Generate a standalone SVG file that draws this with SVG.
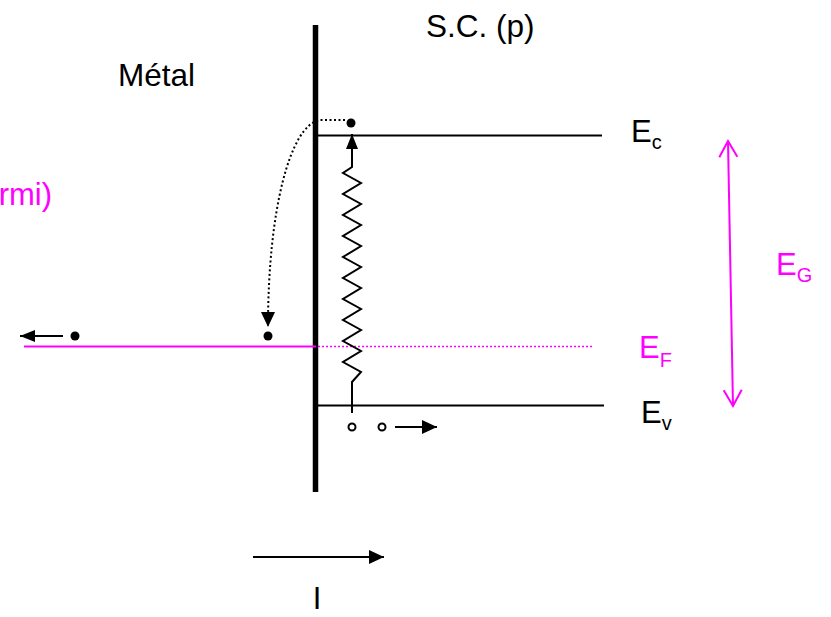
<svg xmlns="http://www.w3.org/2000/svg" width="831" height="617" viewBox="0 0 831 617">
<style>
.t{font-family:"Liberation Sans",Arial,sans-serif;fill:#000}
.m{fill:#FF00FF}
.blk{stroke:#000;fill:none}
.mag{stroke:#FF00FF;fill:none}
</style>
<defs>
<marker id="ah" markerUnits="userSpaceOnUse" markerWidth="16" markerHeight="14" refX="15" refY="7" orient="auto"><path d="M0,0 L15,7 L0,14 z" fill="#000"/></marker>
<marker id="ahs" markerUnits="userSpaceOnUse" markerWidth="16" markerHeight="12" refX="15" refY="6" orient="auto"><path d="M0,0 L15,6 L0,12 z" fill="#000"/></marker>
<marker id="oa" markerUnits="userSpaceOnUse" markerWidth="20" markerHeight="22" refX="17" refY="10" orient="auto-start-reverse"><path d="M1,1 L17,10 L1,19" fill="none" stroke="#FF00FF" stroke-width="2"/></marker>
</defs>
<rect width="831" height="617" fill="#fff"/>

<g id="labels">
<text class="t" x="118" y="86" font-size="31.5">Métal</text>
<text class="t" x="426" y="37" font-size="31.5">S.C. (p)</text>
<text class="t m" x="52" y="205" font-size="31" text-anchor="end">rmi)</text>
<text class="t" x="317" y="609" font-size="31" text-anchor="middle">I</text>
</g>

<g id="wall"><line class="blk" x1="315.5" y1="25" x2="315.5" y2="492" stroke-width="5.5"/></g>

<g id="Ec">
<line class="blk" x1="316" y1="135.5" x2="602" y2="135.5" stroke-width="2"/>
<text class="t" x="631" y="142" font-size="31">E<tspan font-size="20" dy="7">c</tspan></text>
</g>
<g id="Ev">
<line class="blk" x1="316" y1="405.5" x2="604" y2="405.5" stroke-width="2"/>
<text class="t" x="641" y="423" font-size="31">E<tspan font-size="20" dy="7">v</tspan></text>
</g>
<g id="EF">
<line class="mag" x1="24" y1="346.5" x2="316" y2="346.5" stroke-width="2.2"/>
<line class="mag" x1="318" y1="346.5" x2="594" y2="346.5" stroke-width="1.5" stroke-dasharray="2,2"/>
<text class="t m" x="639" y="358" font-size="31">E<tspan font-size="20" dy="9">F</tspan></text>
</g>
<g id="EG">
<text class="t m" x="776" y="275" font-size="31">E<tspan font-size="20" dy="7">G</tspan></text>
</g>

<g id="particles">
<circle cx="351" cy="123" r="4.5" fill="#000"/>
<circle cx="268" cy="336" r="4.5" fill="#000"/>
<circle cx="75" cy="336" r="4.5" fill="#000"/>
<circle cx="352" cy="427" r="3.5" fill="#fff" stroke="#000" stroke-width="2"/>
<circle cx="382" cy="427" r="3.5" fill="#fff" stroke="#000" stroke-width="2"/>
</g>

<g id="connectors">
<path class="blk" stroke-width="2" d="M352,413 L352,382 L361,372 L343,362 L361,351 L343,341 L361,330 L343,320 L361,309 L343,299 L361,288 L343,278 L361,267 L343,257 L361,246 L343,236 L361,225 L343,215 L361,204 L343,194 L361,183 L343,173 L352,167 L352,134" marker-end="url(#ahs)"/>
<path class="blk" stroke-width="2" stroke-dasharray="2,2.5" d="M345,120 L320,120 C290,125 268,210 268,327" marker-end="url(#ah)"/>
<line class="blk" x1="63" y1="336" x2="20" y2="336" stroke-width="2" marker-end="url(#ahs)"/>
<line class="blk" x1="395" y1="427" x2="437" y2="427" stroke-width="2" marker-end="url(#ah)"/>
<line class="blk" x1="253" y1="557" x2="384" y2="557" stroke-width="2" marker-end="url(#ah)"/>
<line class="mag" x1="728" y1="141" x2="733" y2="406" stroke-width="2" marker-start="url(#oa)" marker-end="url(#oa)"/>
</g>
</svg>
